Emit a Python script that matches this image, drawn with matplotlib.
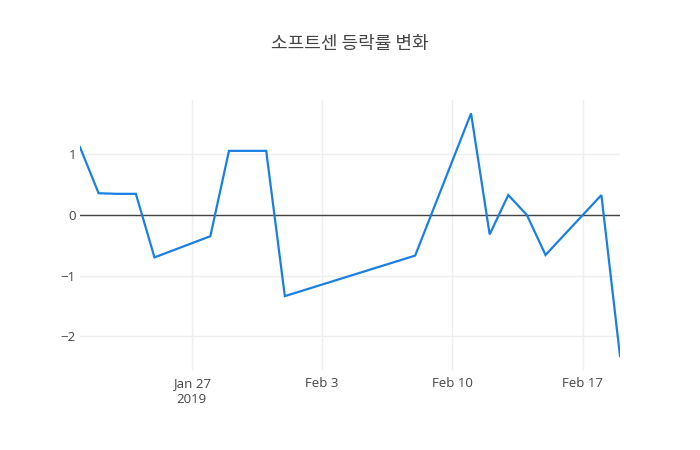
import numpy as np
import pandas as pd
import matplotlib
matplotlib.use('Agg')
import matplotlib.pyplot as plt
import matplotlib.dates as mdates

plt.rcParams['font.family'] = ['Open Sans', 'Noto Sans CJK KR', 'DejaVu Sans']

dates = pd.to_datetime(['2019-01-21', '2019-01-22', '2019-01-23', '2019-01-24', '2019-01-25',
                        '2019-01-28', '2019-01-29', '2019-01-31', '2019-02-01', '2019-02-08',
                        '2019-02-11', '2019-02-12', '2019-02-13', '2019-02-14', '2019-02-15',
                        '2019-02-18', '2019-02-19'])
change = [1.12, 0.36, 0.35, 0.35, -0.70,
          -0.35, 1.06, 1.06, -1.34, -0.67,
          1.68, -0.32, 0.33, 0.00, -0.66,
          0.33, -2.33]

xticks = pd.to_datetime(['2019-01-27', '2019-02-03', '2019-02-10', '2019-02-17'])
xticklabels = ['Jan 27\n2019', 'Feb 3', 'Feb 10', 'Feb 17']
yticks = [-2, -1, 0, 1]
yticklabels = ['\u22122', '\u22121', '0', '1']

fig = plt.figure(figsize=(7, 4.5), dpi=100)
ax = fig.add_axes([80/700, 80/450, 540/700, 270/450])

ax.plot(dates, change, color='#1a7fe5', lw=1.6, solid_joinstyle='miter')
ax.axhline(0, color='#444444', lw=1, zorder=1)

ax.set_xlim(pd.Timestamp('2019-01-21'), pd.Timestamp('2019-02-19'))
ax.set_ylim(-2.56, 1.90)

ax.set_xticks(xticks)
ax.set_xticklabels(xticklabels, linespacing=1.35)
ax.set_yticks(yticks)
ax.set_yticklabels(yticklabels)
ax.grid(True, color='#eeeeee', lw=1)
ax.set_axisbelow(True)
ax.tick_params(length=0, labelsize=9.5, labelcolor='#444444')
ax.tick_params(axis='y', pad=3)
ax.tick_params(axis='x', pad=5)
for s in ax.spines.values():
    s.set_visible(False)

fig.text(0.5, 1 - 44/450, '소프트센 등락률 변화', ha='center', va='center',
         fontsize=13, color='#444444', family=['Noto Sans CJK KR', 'DejaVu Sans'])

fig.savefig('out.png', dpi=100)
